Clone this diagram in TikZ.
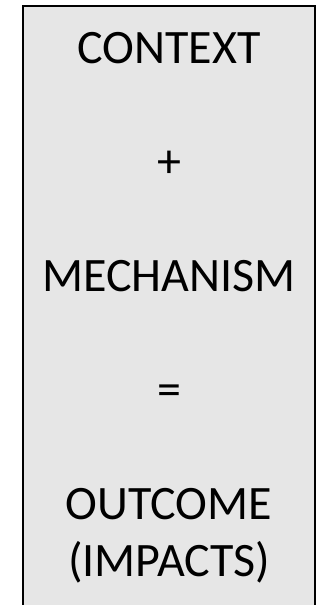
\documentclass[tikz,border=0pt]{standalone}
\usepackage{fontspec}
\setmainfont{Carlito}
\begin{document}
\begin{tikzpicture}[x=1pt,y=-1pt,
  lbl/.style={anchor=base,inner sep=0pt,font=\fontsize{48}{57}\selectfont}]
\useasboundingbox (0,0) rectangle (324,605);
\fill[fill={rgb,255:red,230;green,230;blue,230}] (23,6) rectangle (315,605);
\draw[line width=2pt] (23,605) -- (23,6) -- (315,6) -- (315,605);
\node[lbl] (ctx) at (169,63) {CONTEXT};
\node[lbl] (plus) at (169,177) {+};
\node[lbl] (mech) at (169,291) {MECHANISM};
\node[lbl] (eq) at (169,405) {=};
\node[lbl] (out) at (169,519) {OUTCOME};
\node[lbl] (imp) at (169,576) {(IMPACTS)};
\end{tikzpicture}
\end{document}
